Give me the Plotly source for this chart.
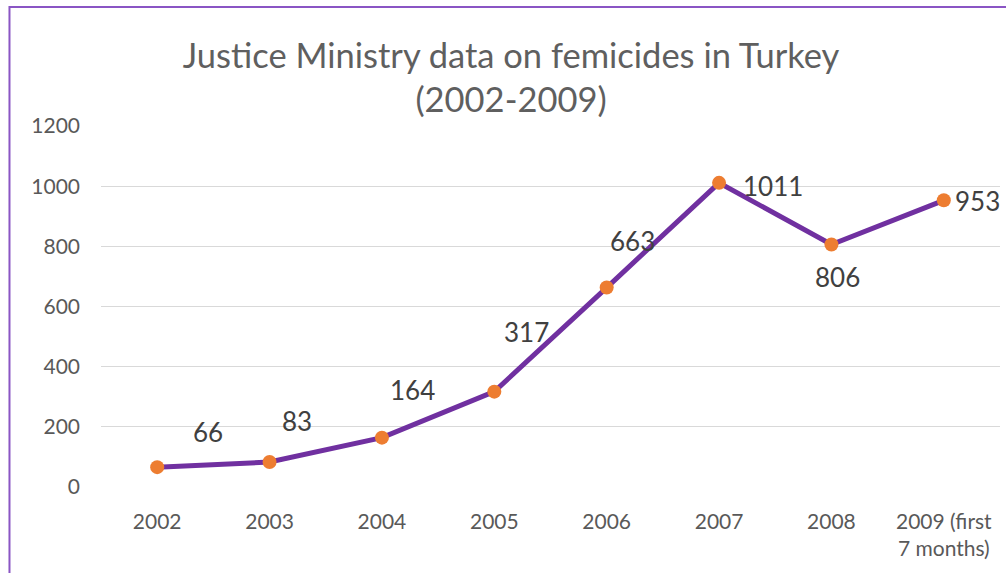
import plotly.graph_objects as go

categories = ["2002", "2003", "2004", "2005", "2006", "2007", "2008", "2009 (first<br>7 months)"]
values = [66, 83, 164, 317, 663, 1011, 806, 953]
y_ticks = [0, 200, 400, 600, 800, 1000, 1200]

# label offsets (pixels) relative to each point
label_dx = [51, 27, 31, 32, 26, 54, 6, 34]
label_dy = [35, 41, 48, 60, 47, -3, -32, -1]

FONT = "Lato"
fig = go.Figure()
fig.add_trace(go.Scatter(
    x=categories, y=values, mode="lines+markers",
    line=dict(color="#7030a0", width=5),
    marker=dict(color="#ed7d31", size=14),
    cliponaxis=False, hoverinfo="x+y",
))

for i, (v, dx, dy) in enumerate(zip(values, label_dx, label_dy)):
    fig.add_annotation(x=i, y=v, xref="x", yref="y", text=str(v), showarrow=False,
                       xshift=dx, yshift=dy,
                       font=dict(family=FONT, size=26, color="#404040"))

fig.add_shape(type="rect", xref="paper", yref="paper",
              x0=-0.1018, x1=1.03, y0=-0.3, y1=1.3296,
              line=dict(color="#8a55c4", width=2), layer="below")

fig.update_layout(
    width=1006, height=573,
    margin=dict(l=101, r=6, t=126, b=86),
    paper_bgcolor="white", plot_bgcolor="white",
    showlegend=False,
    title=dict(text="Justice Ministry data on femicides in Turkey<br>(2002-2009)",
               x=0.508, xanchor="center", y=0.882, yanchor="middle",
               font=dict(family=FONT, size=34.5, color="#5f5f5f")),
    font=dict(family=FONT, color="#595959"),
)
fig.update_xaxes(range=[-0.5, 7.5], showgrid=False, showline=False, zeroline=False,
                 ticks="", tickfont=dict(family=FONT, size=21, color="#595959"),
                 ticklabelstandoff=20)
fig.update_yaxes(range=[0, 1200], tickvals=y_ticks, showgrid=True,
                 gridcolor="#d9d9d9", gridwidth=1, zeroline=False, showline=False,
                 ticks="", tickfont=dict(family=FONT, size=21, color="#595959"),
                 ticklabelstandoff=20)

fig.write_html("out.html", config={"displayModeBar": False},
               post_script="document.body.style.margin='0';")
